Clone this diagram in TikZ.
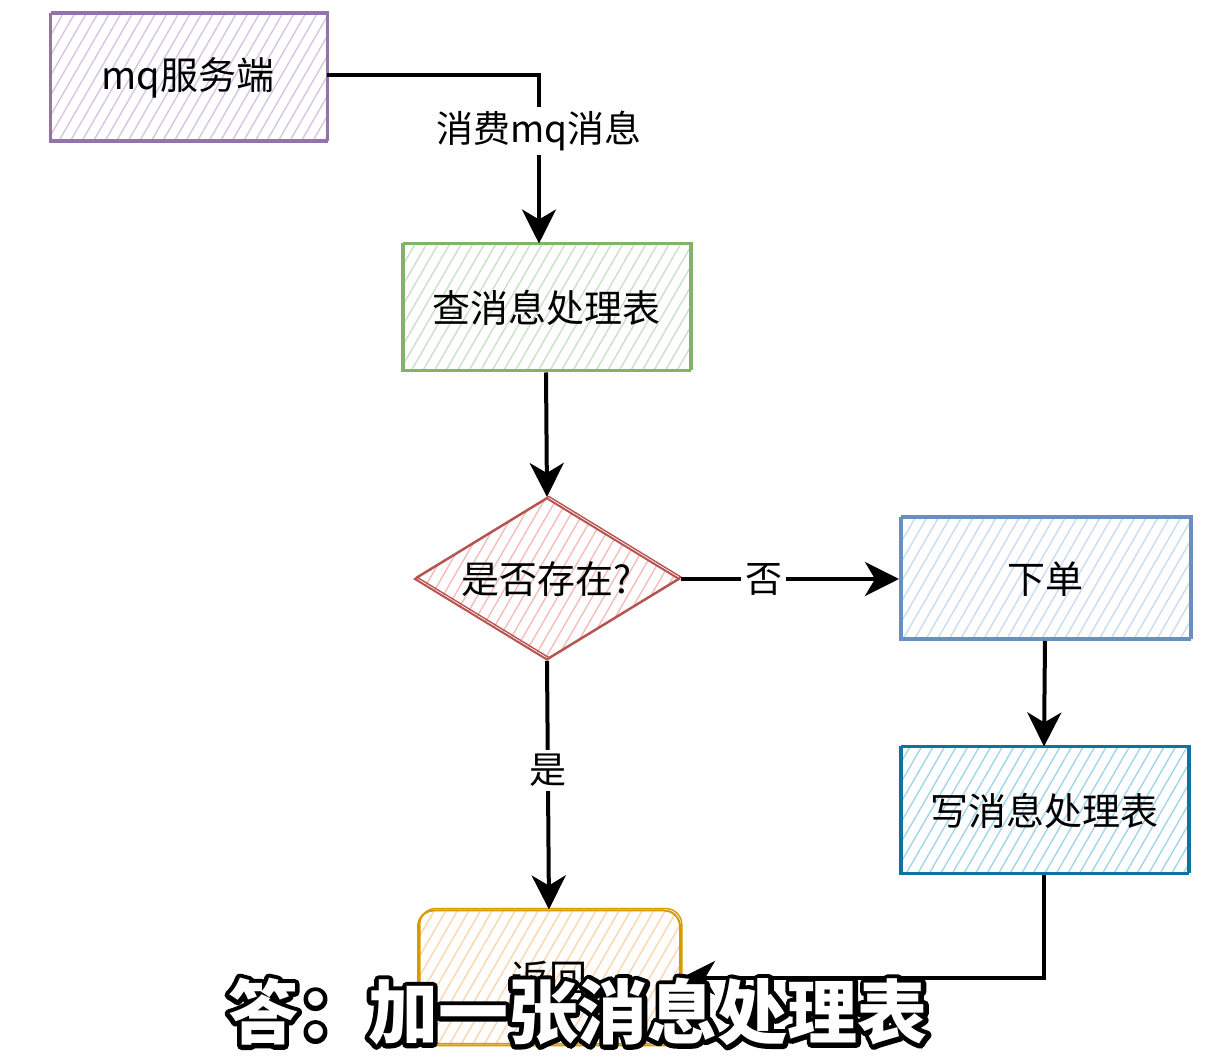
\documentclass[tikz,border=0pt]{standalone}
\usepackage{fontspec}
\setmainfont{Noto Sans CJK SC}
\usetikzlibrary{shapes.geometric,arrows.meta,patterns.meta}
\definecolor{purpleS}{HTML}{9673A6}\definecolor{purpleF}{HTML}{D6C6E0}
\definecolor{greenS}{HTML}{82B366}\definecolor{greenF}{HTML}{C9E2C5}
\definecolor{redS}{HTML}{B85450}\definecolor{redF}{HTML}{F4BDBA}
\definecolor{blueS}{HTML}{6C8EBF}\definecolor{blueF}{HTML}{C8DCF6}
\definecolor{tealS}{HTML}{10739E}\definecolor{tealF}{HTML}{A2D5EC}
\definecolor{orangeS}{HTML}{D79B00}\definecolor{orangeF}{HTML}{FBD6AE}
\newcommand\outlinetxt[1]{\leavevmode\rlap{\textcolor{black}{\special{pdf:code 2 Tr 0 0 0 RG 4.6 w 1 j}#1\special{pdf:code 0 Tr}}}\textcolor{white}{#1}}
\tikzset{
  sketch/.style 2 args={draw=#1, line width=1pt, pattern={Lines[angle=60,distance=5pt,line width=0.7pt]}, pattern color=#2,
    text=black, font=\fontsize{19}{22}\selectfont, inner sep=0pt,
    postaction={draw=#1, line width=0.7pt, transform canvas={shift={(0.9pt,1pt)}}}},
  arr/.style={line width=2pt, line join=miter, -{Stealth[length=17pt,width=17pt,inset=5pt]}},
  lab/.style={fill=white, text=black, font=\fontsize{18.5}{22}\selectfont, inner sep=2pt},
}
\begin{document}
\begin{tikzpicture}[x=0.5pt,y=-0.5pt]
\useasboundingbox[fill=white] (0,0) rectangle (1212,1063);
\node[sketch={purpleS}{purpleF}, rectangle, minimum width=138.5pt, minimum height=64pt] (mq) at (188,78) {mq服务端};
\node[sketch={greenS}{greenF}, rectangle, minimum width=144pt, minimum height=63.5pt] (check) at (546,308) {查消息处理表};
\node[sketch={redS}{redF}, diamond, shape aspect=1.63, minimum width=132.5pt, minimum height=81pt] (dec) at (547,579) {是否存在?};
\node[sketch={blueS}{blueF}, rectangle, minimum width=145pt, minimum height=61pt] (order) at (1045,579) {下单};
\node[sketch={tealS}{tealF}, rectangle, minimum width=144pt, minimum height=63.5pt] (write) at (1044,811) {写消息处理表};
\node[sketch={orangeS}{orangeF}, rectangle, rounded corners=8pt, minimum width=131pt, minimum height=67.5pt] (ret) at (549,978) {返回};
\coordinate (c1) at (539,75);
\draw[arr] (mq.east |- c1) -- (c1) -- (c1 |- check.north) node[lab, pos=0.33] {消费mq消息};
\draw[arr] (check.south) -- (dec.north);
\draw[arr] (dec.east) -- (order.west) node[lab, pos=0.38] {否};
\draw[arr] (dec.south) -- (ret.north) node[lab, pos=0.44] {是};
\draw[arr] (order.south) -- (write.north);
\draw[arr] (write.south) |- (ret.east);
\node[inner sep=0pt, font=\fontsize{35}{40}\selectfont\bfseries] (ans) at (578,1012) {\outlinetxt{答：加一张消息处理表}};
\end{tikzpicture}
\end{document}
